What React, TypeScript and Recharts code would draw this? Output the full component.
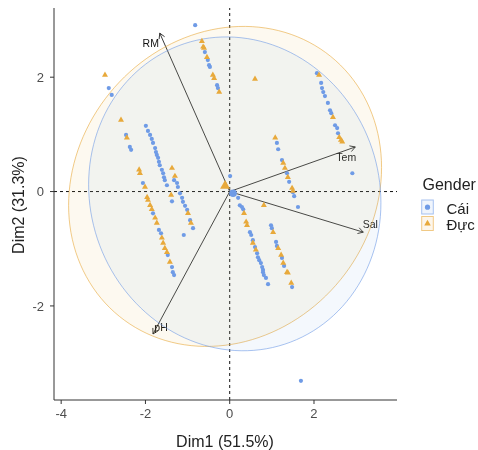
import React from 'react';
import { ScatterChart, Scatter, XAxis, YAxis, ReferenceLine, Customized } from 'recharts';

const BLUE = '#6f9be6';
const ORANGE = '#e8a93b';
const FONT = '"Liberation Sans", Arial, sans-serif';

const groups = ['Cái', 'Đực'];

const caiValues: [number, number][] = [
  [-0.82, 2.91], [-2.87, 1.81], [-2.8, 1.69], [-2.46, 0.99], [-2.37, 0.78], [-2.34, 0.73], [1.69, -3.31], [2.91, 0.32], [0.01, 0.27], [1.62, -0.27], [-1.09, -0.76],
  [-2.06, 0.15], [-1.82, -0.38], [-1.68, -0.67], [-1.63, -0.73], [-1.47, -1.11], [-1.37, -1.32], [-1.35, -1.41], [-1.32, -1.46],
  [-1.99, 1.15], [-1.94, 1.06], [-1.89, 0.99], [-1.85, 0.92], [-1.82, 0.85], [-1.77, 0.76], [-1.75, 0.69], [-1.73, 0.64], [-1.7, 0.59], [-1.68, 0.52], [-1.66, 0.46], [-1.61, 0.38], [-1.58, 0.32], [-1.56, 0.25], [-1.54, 0.2], [-1.49, 0.11],
  [-1.32, 0.2], [-1.25, 0.15], [-1.23, 0.08], [-1.18, -0.03], [-1.13, -0.11], [-1.11, -0.18], [-1.06, -0.25], [-1.01, -0.32], [-0.94, -0.5], [-0.87, -0.64], [-1.37, -0.17],
  [-0.59, 2.44], [-0.52, 2.3], [-0.49, 2.21], [-0.47, 2.18], [-0.3, 1.86], [-0.28, 1.81],
  [2.07, 2.07], [2.17, 1.9], [2.19, 1.81], [2.22, 1.74], [2.26, 1.67], [2.33, 1.55], [2.38, 1.42], [2.41, 1.37], [2.5, 1.16], [2.55, 1.11], [2.57, 1.02],
  [1.12, 0.85], [1.15, 0.74], [1.24, 0.55], [1.36, 0.32], [1.41, 0.17], [1.5, -0.01], [1.53, -0.08],
  [0.98, -0.59], [1.0, -0.64], [1.1, -0.88], [1.12, -0.95], [1.24, -1.16], [1.29, -1.3], [1.48, -1.67],
  [0.2, -0.11], [0.24, -0.24], [0.29, -0.27], [0.32, -0.31], [0.48, -0.71], [0.51, -0.76], [0.55, -0.85], [0.6, -0.97], [0.65, -1.08], [0.67, -1.15], [0.7, -1.2], [0.74, -1.25], [0.77, -1.32], [0.79, -1.37], [0.79, -1.41], [0.81, -1.46], [0.86, -1.51], [0.91, -1.62],
];

const ducValues: [number, number][] = [
  [-2.96, 2.04], [-2.58, 1.25], [-2.44, 0.94], [0.6, 1.97], [0.81, -0.24],
  [-2.15, 0.38], [-2.13, 0.32], [-2.01, 0.08], [-1.96, -0.1], [-1.94, -0.15], [-1.89, -0.24], [-1.85, -0.31], [-1.77, -0.46], [-1.73, -0.55], [-1.61, -0.81], [-1.58, -0.9], [-1.54, -0.99], [-1.49, -1.06], [-1.42, -1.23],
  [-1.37, 0.41], [-1.3, 0.27], [-1.39, -0.06], [-0.99, -0.38], [-0.92, -0.55],
  [-0.66, 2.63], [-0.63, 2.53], [-0.61, 2.51], [-0.54, 2.35], [-0.4, 2.04], [-0.37, 1.98], [-0.25, 1.74],
  [2.12, 2.04], [2.45, 1.3], [2.6, 0.95], [2.64, 0.9], [2.67, 0.87],
  [1.08, 0.94], [1.27, 0.5], [1.31, 0.41], [1.38, 0.25], [1.48, 0.06], [1.5, 0.01],
  [1.03, -0.71], [1.15, -0.99], [1.22, -1.11], [1.27, -1.25], [1.36, -1.41], [1.38, -1.42], [1.46, -1.6],
  [0.34, -0.38], [0.39, -0.53], [0.41, -0.59], [0.55, -0.9], [0.62, -1.02],
];

const caiCentroid = [{ x: 0.08, y: -0.03 }];
const ducCentroid = [{ x: -0.11, y: 0.1 }];

const varNames = ['RM', 'Tem', 'Sal', 'pH'];
const varX = [-1.66, 2.98, 3.17, -1.82];
const varY = [2.77, 0.78, -0.71, -2.49];

// ellipse parameters (centre and covariance, data units)
const ellipseDuc = { cx: -0.11, cy: 0.09, sxx: 13.79, syy: 7.83, sxy: 1.23 };
const ellipseCai = { cx: 0.12, cy: -0.04, sxx: 12.03, syy: 7.53, sxy: -0.55 };

const xTicks = [-4, -2, 0, 2];
const yTicks = [-2, 0, 2];
const xDomain = [-4.17, 3.97];
const yDomain = [-3.645, 3.21];

// label offsets in px (style)
const labelDx = [-9, -9, 7, 8];
const labelDy = [10, 10, -8, -7];

const toPts = (arr: [number, number][]) => arr.map(([x, y]) => ({ x, y }));
const caiData = toPts(caiValues);
const ducData = toPts(ducValues);

function ellipsePolygon(e: any, n = 144) {
  const l11 = Math.sqrt(e.sxx);
  const l21 = e.sxy / l11;
  const l22 = Math.sqrt(e.syy - l21 * l21);
  const out: { x: number; y: number }[] = [];
  for (let i = 0; i <= n; i++) {
    const t = (2 * Math.PI * i) / n;
    out.push({ x: e.cx + l11 * Math.cos(t), y: e.cy + l21 * Math.cos(t) + l22 * Math.sin(t) });
  }
  return out;
}

const ellDucData = ellipsePolygon(ellipseDuc);
const ellCaiData = ellipsePolygon(ellipseCai);

const FILL_OPACITY = 0.075;
const STROKE_OPACITY = 0.6;

const emptyShape = () => <g />;

const ellipseLine = (color: string) => (p: any) => {
  const pts = (p.points || []).filter((q: any) => q.x != null && q.y != null);
  if (!pts.length) return <g />;
  const d = pts.map((q: any, i: number) => `${i ? 'L' : 'M'}${q.x},${q.y}`).join(' ') + ' Z';
  return <path d={d} fill={color} fillOpacity={FILL_OPACITY} stroke={color} strokeOpacity={STROKE_OPACITY} strokeWidth={1} />;
};

const circleShape = (r: number) => (p: any) => <circle cx={p.cx} cy={p.cy} r={r} fill={BLUE} />;
const triShape = (s: number) => (p: any) => {
  const { cx, cy } = p;
  const h = s * 0.866;
  return (
    <polygon
      points={`${cx},${cy - (h * 2) / 3} ${cx - s / 2},${cy + h / 3} ${cx + s / 2},${cy + h / 3}`}
      fill={ORANGE}
    />
  );
};

const arrowShape = (i: number) => (p: any) => {
  const { x1, y1, x2, y2 } = p;
  if (x1 == null || x2 == null) return <g />;
  const ang = Math.atan2(y2 - y1, x2 - x1);
  const L = 6;
  const a = Math.PI / 6;
  const ax = x2 - L * Math.cos(ang - a);
  const ay = y2 - L * Math.sin(ang - a);
  const bx = x2 - L * Math.cos(ang + a);
  const by = y2 - L * Math.sin(ang + a);
  return (
    <g>
      <line x1={x1} y1={y1} x2={x2} y2={y2} stroke="#222" strokeWidth={0.9} />
      <polyline points={`${ax},${ay} ${x2},${y2} ${bx},${by}`} fill="none" stroke="#222" strokeWidth={0.9} />
      <text
        x={x2 + labelDx[i]}
        y={y2 + labelDy[i]}
        textAnchor="middle"
        dominantBaseline="central"
        fontSize={10.5}
        fontFamily={FONT}
        fill="#111"
      >
        {varNames[i]}
      </text>
    </g>
  );
};

const Decorations = () => (
  <g fontFamily={FONT}>
    <text x={217} y={439} textAnchor="middle" fontSize={16} fill="#222">Dim1 (51.5%)</text>
    <text transform="translate(15.5,197) rotate(-90)" textAnchor="middle" fontSize={16} fill="#222">Dim2 (31.3%)</text>
    <text x={414.5} y={181.5} fontSize={16} fill="#222">Gender</text>
    <rect x={413.7} y={192} width={11.6} height={14} fill={BLUE} fillOpacity={0.1} stroke={BLUE} strokeOpacity={STROKE_OPACITY} />
    <circle cx={419.5} cy={199.2} r={2.6} fill={BLUE} />
    <rect x={413.7} y={208.5} width={11.6} height={14} fill={ORANGE} fillOpacity={0.1} stroke={ORANGE} strokeOpacity={STROKE_OPACITY} />
    <polygon points="419.5,211.8 416.2,217.5 422.8,217.5" fill={ORANGE} />
    <text x={438.5} y={205.5} fontSize={15} fill="#222">{groups[0]}</text>
    <text x={438.5} y={221.5} fontSize={15} fill="#222">{groups[1]}</text>
  </g>
);

export default function App() {
  return (
    <div style={{ position: 'fixed', left: 8, top: 8, width: 470, height: 442 }}>
      <ScatterChart width={470} height={442} margin={{ top: 0, right: 81, bottom: 0, left: 0 }}>
        <XAxis
          type="number"
          dataKey="x"
          domain={xDomain}
          ticks={xTicks}
          allowDataOverflow
          height={50}
          tickSize={4}
          tickMargin={5}
          axisLine={{ stroke: '#333' }}
          tickLine={{ stroke: '#333' }}
          tick={{ fill: '#4d4d4d', fontSize: 13, fontFamily: FONT }}
        />
        <YAxis
          type="number"
          dataKey="y"
          domain={yDomain}
          ticks={yTicks}
          allowDataOverflow
          width={46}
          tickSize={4}
          tickMargin={6}
          axisLine={{ stroke: '#333' }}
          tickLine={{ stroke: '#333' }}
          tick={{ fill: '#4d4d4d', fontSize: 13, fontFamily: FONT }}
        />
        <Scatter name="ellDuc" data={ellDucData} fill={ORANGE} line={ellipseLine(ORANGE)} shape={emptyShape} isAnimationActive={false} />
        <Scatter name="ellCai" data={ellCaiData} fill={BLUE} line={ellipseLine(BLUE)} shape={emptyShape} isAnimationActive={false} />
        <ReferenceLine x={0} stroke="#111" strokeDasharray="3 3" />
        <ReferenceLine y={0} stroke="#111" strokeDasharray="3 3" />
        <Scatter name={groups[0]} data={caiData} fill={BLUE} shape={circleShape(2.1)} isAnimationActive={false} />
        <Scatter name={groups[1]} data={ducData} fill={ORANGE} shape={triShape(6)} isAnimationActive={false} />
        <Scatter name="cCai" data={caiCentroid} fill={BLUE} shape={circleShape(3.8)} isAnimationActive={false} />
        <Scatter name="cDuc" data={ducCentroid} fill={ORANGE} shape={triShape(10)} isAnimationActive={false} />
        {varNames.map((n, i) => (
          <ReferenceLine
            key={n}
            segment={[{ x: 0, y: 0 }, { x: varX[i], y: varY[i] }]}
            shape={arrowShape(i)}
          />
        ))}
        <Customized component={Decorations} />
      </ScatterChart>
    </div>
  );
}
